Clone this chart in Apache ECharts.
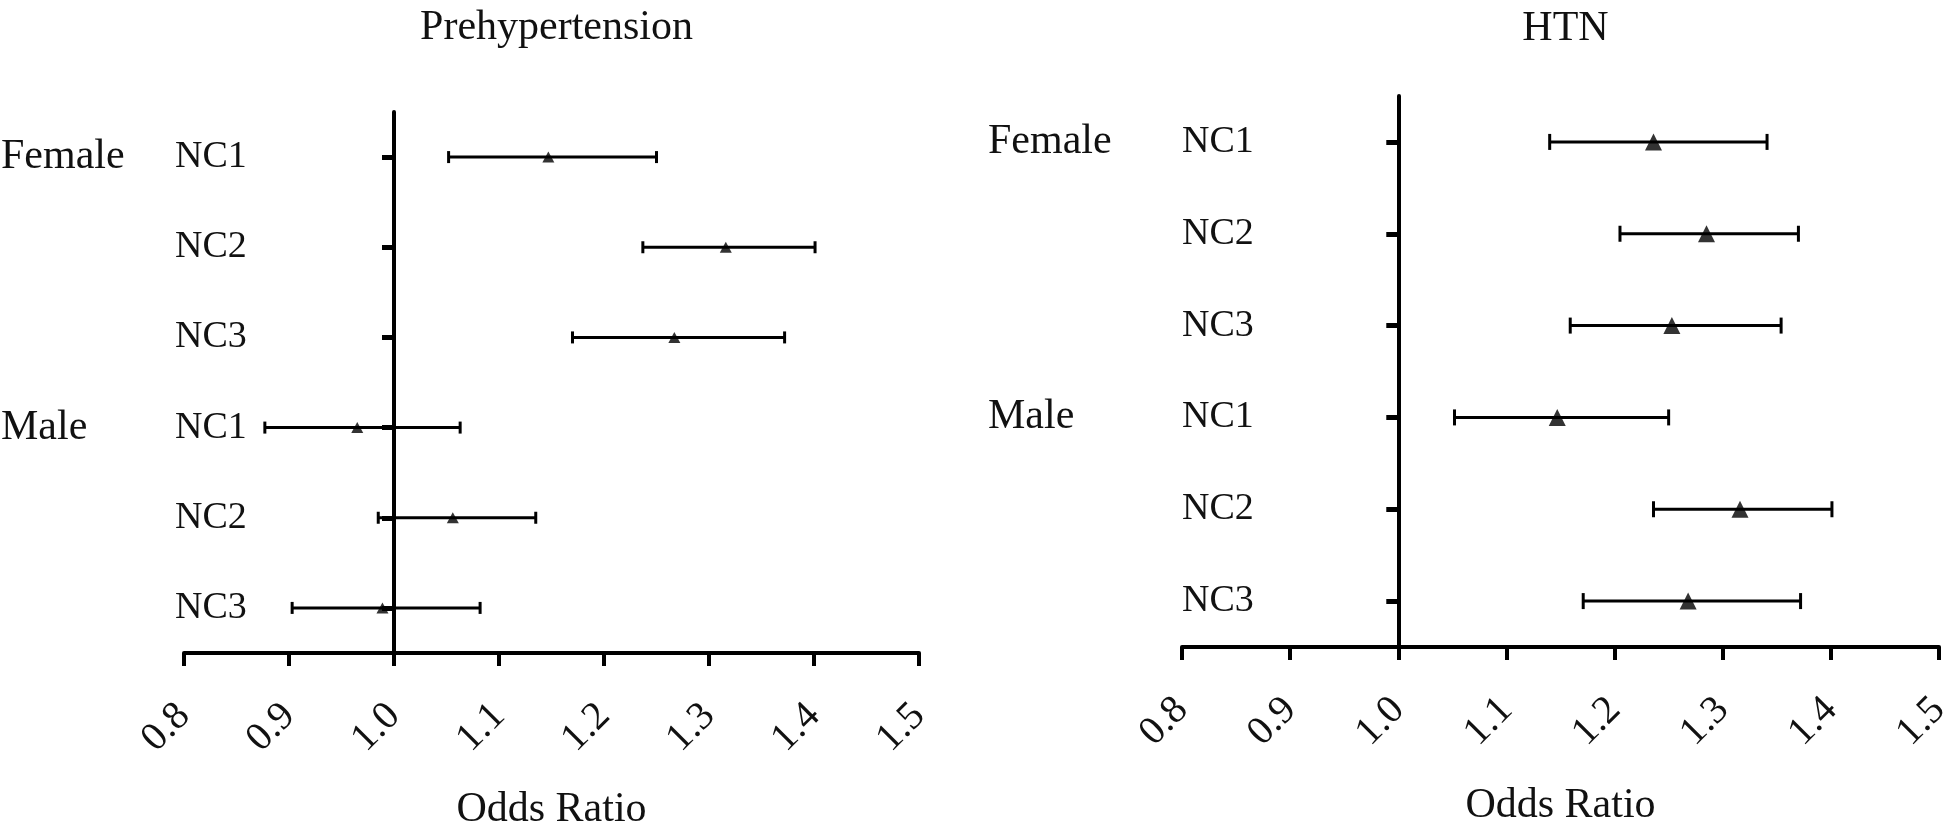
<!DOCTYPE html>
<html><head><meta charset="utf-8">
<script src="https://cdn.jsdelivr.net/npm/echarts@6/dist/echarts.min.js"></script>
<style>html,body{margin:0;padding:0;background:#fff}#c{width:1946px;height:822px}</style>
</head><body><div id="c"></div>
<script>
// ---- data ----
const rowLabels = ['NC1', 'NC2', 'NC3', 'NC1', 'NC2', 'NC3'];
const groupLabels = ['Female', '', '', 'Male', '', ''];
const panelTitles = ['Prehypertension', 'HTN'];
const xMin = 0.8, xMax = 1.5, xStep = 0.1, refValue = 1.0;

const preOR   = [1.147, 1.316, 1.267, 0.965, 1.056, 0.989];
const preLow  = [1.052, 1.237, 1.170, 0.877, 0.985, 0.903];
const preHigh = [1.250, 1.401, 1.372, 1.063, 1.135, 1.082];

const htnOR   = [1.236, 1.285, 1.253, 1.147, 1.316, 1.268];
const htnLow  = [1.140, 1.205, 1.159, 1.052, 1.236, 1.171];
const htnHigh = [1.341, 1.370, 1.354, 1.250, 1.401, 1.372];

// ---- layout ----
const FONT = 'Liberation Serif';
const INK = '#000';
const panels = [
  { grid: {left: 184, top: 112, width: 735, height: 541}, or: preOR, lo: preLow, hi: preHigh,
    marker: [12, 11], capH: 12, labelMargin: 9, groupMargin: 183, titleTop: 2, nameGap: 136 },
  { grid: {left: 1182, top: 96, width: 757, height: 551}, or: htnOR, lo: htnLow, hi: htnHigh,
    marker: [17, 17], capH: 16, labelMargin: 0, groupMargin: 194, titleTop: 3, nameGap: 138 }
];

const option = { animation: false, backgroundColor: '#fff', title: [], grid: [], xAxis: [], yAxis: [], series: [] };

panels.forEach((p, i) => {
  option.grid.push(Object.assign({containLabel: false, outerBoundsMode: 'none'}, p.grid));
  option.title.push({
    text: panelTitles[i], left: p.grid.left + p.grid.width / 2, top: p.titleTop, textAlign: 'center',
    textStyle: {fontFamily: FONT, fontSize: 42, fontWeight: 'normal', color: '#111'}
  });
  option.xAxis.push({
    type: 'value', gridIndex: i, position: 'bottom', min: xMin, max: xMax, interval: xStep,
    name: 'Odds Ratio', nameLocation: 'middle', nameGap: p.nameGap,
    nameTextStyle: {fontFamily: FONT, fontSize: 42, color: '#111'},
    axisLine: {show: true, onZero: false, lineStyle: {color: INK, width: 4}},
    axisTick: {show: true, length: 13, lineStyle: {color: INK, width: 4}},
    axisLabel: {rotate: 45, margin: 57, fontFamily: FONT, fontSize: 40, color: '#111',
      formatter: v => v.toFixed(1)},
    splitLine: {show: false}
  });
  // row labels (NC1..)
  option.yAxis.push({
    type: 'category', gridIndex: i, position: 'left', data: rowLabels, inverse: true,
    axisLine: {show: false}, axisTick: {show: false}, splitLine: {show: false},
    axisLabel: {align: 'left', margin: p.labelMargin, fontFamily: FONT, fontSize: 38, color: '#111', interval: 0}
  });
  // vertical reference line at OR = 1.0 with row ticks
  const offset = -p.grid.width * (refValue - xMin) / (xMax - xMin);
  option.yAxis.push({
    type: 'category', gridIndex: i, position: 'left', data: rowLabels, inverse: true, offset: offset,
    axisLine: {show: true, lineStyle: {color: INK, width: 4}},
    axisTick: {show: true, alignWithLabel: true, length: 12, interval: 0, lineStyle: {color: INK, width: 5}},
    axisLabel: {show: false}, splitLine: {show: false}
  });
  // group labels
  option.yAxis.push({
    type: 'category', gridIndex: i, position: 'left', data: groupLabels, inverse: true,
    axisLine: {show: false}, axisTick: {show: false}, splitLine: {show: false},
    axisLabel: {align: 'left', margin: p.groupMargin, fontFamily: FONT, fontSize: 42, color: '#111', interval: 0}
  });

  const capH = p.capH;
  option.series.push({
    type: 'custom', xAxisIndex: i, yAxisIndex: 3 * i, z: 2,
    data: p.lo.map((l, k) => [l, p.hi[k], k]),
    encode: {x: [0, 1], y: 2},
    renderItem: (params, api) => {
      const k = api.value(2);
      const a = api.coord([api.value(0), k]);
      const b = api.coord([api.value(1), k]);
      const style = {stroke: INK, lineWidth: 3};
      return {type: 'group', children: [
        {type: 'line', shape: {x1: a[0], y1: a[1], x2: b[0], y2: b[1]}, style},
        {type: 'line', shape: {x1: a[0], y1: a[1] - capH / 2, x2: a[0], y2: a[1] + capH / 2}, style},
        {type: 'line', shape: {x1: b[0], y1: b[1] - capH / 2, x2: b[0], y2: b[1] + capH / 2}, style}
      ]};
    }
  });
  option.series.push({
    type: 'scatter', xAxisIndex: i, yAxisIndex: 3 * i, z: 3,
    symbol: 'triangle', symbolSize: p.marker,
    itemStyle: {color: INK},
    data: p.or.map((v, k) => [v, k])
  });
});

const chart = echarts.init(document.getElementById('c'));
chart.setOption(option);
</script></body></html>
